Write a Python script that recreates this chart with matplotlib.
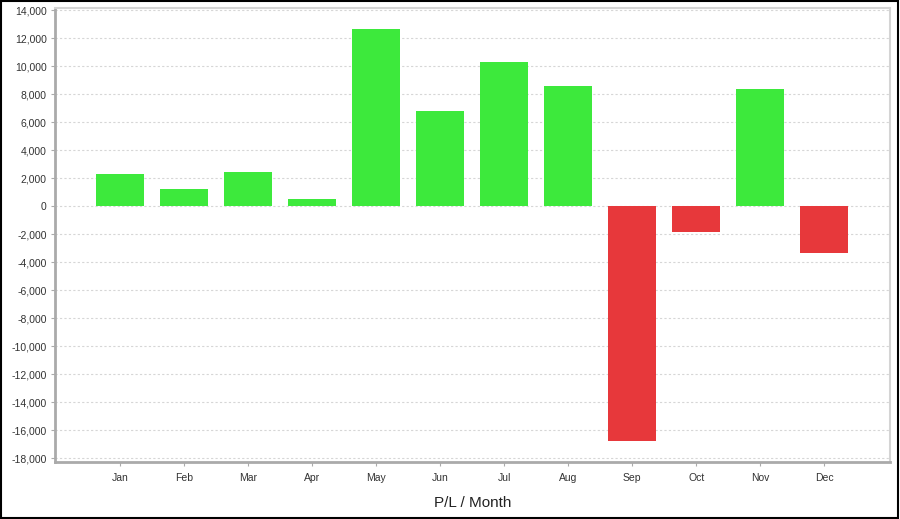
import matplotlib.pyplot as plt
from matplotlib.patches import Rectangle
from matplotlib.ticker import FuncFormatter

# Monthly profit / loss
months = ['Jan', 'Feb', 'Mar', 'Apr', 'May', 'Jun', 'Jul', 'Aug', 'Sep', 'Oct', 'Nov', 'Dec']
pnl = [2320, 1250, 2440, 530, 12670, 6840, 10280, 8600, -16780, -1810, 8370, -3310]
y_ticks = list(range(-18000, 14001, 2000))

plt.rcParams['font.family'] = ['Liberation Sans', 'DejaVu Sans']

fig = plt.figure(figsize=(9, 5.19), dpi=100)
ax = fig.add_axes([55 / 900, 1 - 462 / 519, 835 / 900, 454 / 519])

colors = ['#3de93c' if v >= 0 else '#e7383b' for v in pnl]
x = list(range(len(months)))
ax.bar(x, pnl, width=0.75, color=colors, edgecolor='none', zorder=3)

ax.set_xlim(-1.02, 12.03)
ax.set_ylim(-18280, 14170)
ax.set_yticks(y_ticks)
ax.yaxis.set_major_formatter(FuncFormatter(lambda v, p: f'{int(v):,}'))
ax.set_xticks(x)
ax.set_xticklabels(months)

ax.grid(axis='y', color='#d6d6d6', linestyle=(0, (2, 2)), linewidth=0.8, zorder=0)
ax.tick_params(axis='both', labelsize=7.5, colors='#aaaaaa', labelcolor='#333333',
               length=3, width=0.8, pad=3)
ax.tick_params(axis='x', pad=5)

for side in ['left', 'bottom']:
    ax.spines[side].set_color('#aaaaaa')
    ax.spines[side].set_linewidth(2)
for side in ['top', 'right']:
    ax.spines[side].set_color('#d4d4d4')
    ax.spines[side].set_linewidth(1.5)

ax.set_xlabel('P/L / Month', fontsize=11, color='#222222', labelpad=9)

# outer frame around the whole picture
fig.patches.append(Rectangle((0.001, 0.002), 0.997, 0.996, transform=fig.transFigure,
                             fill=False, edgecolor='black', linewidth=1.5))

fig.savefig('out.png', dpi=100)
